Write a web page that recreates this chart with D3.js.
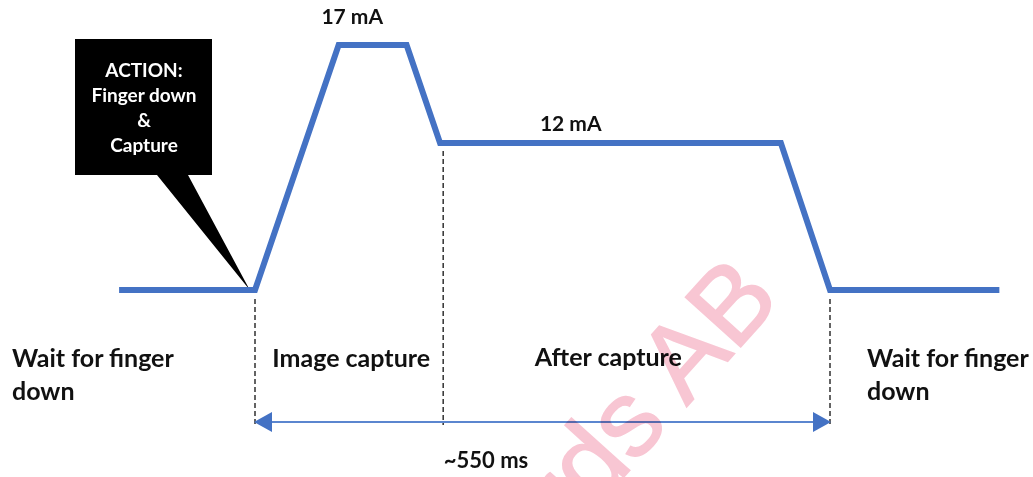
<!DOCTYPE html>
<html>
<head>
<meta charset="utf-8">
<script src="https://cdn.jsdelivr.net/npm/d3@7"></script>
<style>
  html, body { margin: 0; padding: 0; background: #fff; }
  svg text { font-family: Lato, "Open Sans", sans-serif; font-weight: bold; }
</style>
</head>
<body>
<div id="chart"></div>
<script>
// current profile, time in ms, current in mA
var times   = [-130, 0, 80, 145, 177, 503, 550, 712];
var current = [4.5, 4.5, 17, 17, 12, 12, 4.5, 4.5];

// phase borders (ms) and the texts that go with the chart
var borders     = [0, 180, 550];
var levelLabels = ["17 mA", "12 mA"];
var phaseLabels = ["Image capture", "After capture"];
var waitLabel   = ["Wait for finger", "down"];
var actionLines = ["ACTION:", "Finger down", "&", "Capture"];
var spanLabel   = "~550 ms";
var watermark   = "Fingerprint Cards AB";

var W = 1033, H = 477;
var blue = "#4472c4";

var svg = d3.select("#chart").append("svg").attr("width", W).attr("height", H);

var x = d3.scaleLinear().domain([0, 550]).range([255, 830]);
var y = d3.scaleLinear().domain([4.5, 17]).range([290, 45]);

var pts = times.map(function(t, i) { return [t, current[i]]; });
var line = d3.line().x(function(d) { return x(d[0]); }).y(function(d) { return y(d[1]); });

// dashed phase markers
var arrowY = 422;
svg.selectAll(".marker").data(borders).enter()
    .append("line")
    .attr("class", "marker")
    .attr("x1", function(d) { return x(d); })
    .attr("x2", function(d) { return x(d); })
    .attr("y1", function(d) { return d === 180 ? y(12) + 8 : y(4.5) + 9; })
    .attr("y2", arrowY + 3)
    .attr("stroke", "#222")
    .attr("stroke-width", 1.4)
    .attr("stroke-dasharray", "5,3");

// callout box with its pointer
var tipX = x(-5), tipY = y(4.5);
svg.append("path")
    .attr("d", "M75,39 L212,39 L212,175 L188,175 L" + tipX + "," + tipY + " L157,175 L75,175 Z")
    .attr("fill", "#000");

svg.selectAll(".action").data(actionLines).enter()
    .append("text")
    .attr("class", "action")
    .attr("x", 144)
    .attr("y", function(d, i) { return 77 + i * 25; })
    .attr("text-anchor", "middle")
    .attr("fill", "#fff")
    .style("font-size", "19px")
    .text(function(d) { return d; });

// the current curve
svg.append("path")
    .datum(pts)
    .attr("d", line)
    .attr("fill", "none")
    .attr("stroke", blue)
    .attr("stroke-width", 6)
    .attr("stroke-linejoin", "miter");

// level labels
svg.append("text").attr("x", x(93)).attr("y", 24).attr("text-anchor", "middle")
    .style("font-size", "21px").attr("fill", "#111").text(levelLabels[0]);
svg.append("text").attr("x", x(302)).attr("y", 131).attr("text-anchor", "middle")
    .style("font-size", "21px").attr("fill", "#111").text(levelLabels[1]);

// phase labels
svg.append("text").attr("x", x(92)).attr("y", 367).attr("text-anchor", "middle")
    .style("font-size", "25px").attr("fill", "#111").text(phaseLabels[0]);
svg.append("text").attr("x", x(338)).attr("y", 366).attr("text-anchor", "middle")
    .style("font-size", "25px").attr("fill", "#111").text(phaseLabels[1]);

[12, 867].forEach(function(px) {
    svg.append("text").selectAll("tspan").data(waitLabel).enter()
        .append("tspan")
        .attr("x", px)
        .attr("y", function(d, i) { return 367 + i * 33; })
        .style("font-size", "25px")
        .attr("fill", "#111")
        .text(function(d) { return d; });
});

// duration arrow
var ax0 = x(0) - 1, ax1 = x(550) + 1;
svg.append("line")
    .attr("x1", ax0 + 10).attr("x2", ax1 - 10)
    .attr("y1", arrowY).attr("y2", arrowY)
    .attr("stroke", "#5b86cf").attr("stroke-width", 2);
svg.append("path")
    .attr("d", "M" + ax0 + "," + arrowY + " L" + (ax0 + 18) + "," + (arrowY - 10) + " L" + (ax0 + 18) + "," + (arrowY + 10) + " Z")
    .attr("fill", blue);
svg.append("path")
    .attr("d", "M" + ax1 + "," + arrowY + " L" + (ax1 - 18) + "," + (arrowY - 10) + " L" + (ax1 - 18) + "," + (arrowY + 10) + " Z")
    .attr("fill", blue);

svg.append("text").attr("x", 486).attr("y", 468).attr("text-anchor", "middle")
    .style("font-size", "22px").attr("fill", "#111").text(spanLabel);

// watermark, laid over everything like in the original
svg.append("text")
    .attr("transform", "translate(783,300) rotate(-48)")
    .attr("text-anchor", "end")
    .style("font-family", "'Liberation Sans', Arial, sans-serif")
    .style("font-weight", "normal")
    .style("font-size", "108px")
    .style("mix-blend-mode", "multiply")
    .attr("fill", "#f8c6d3")
    .attr("stroke", "#f8c6d3")
    .attr("stroke-width", 1.5)
    .text(watermark);
</script>
</body>
</html>
